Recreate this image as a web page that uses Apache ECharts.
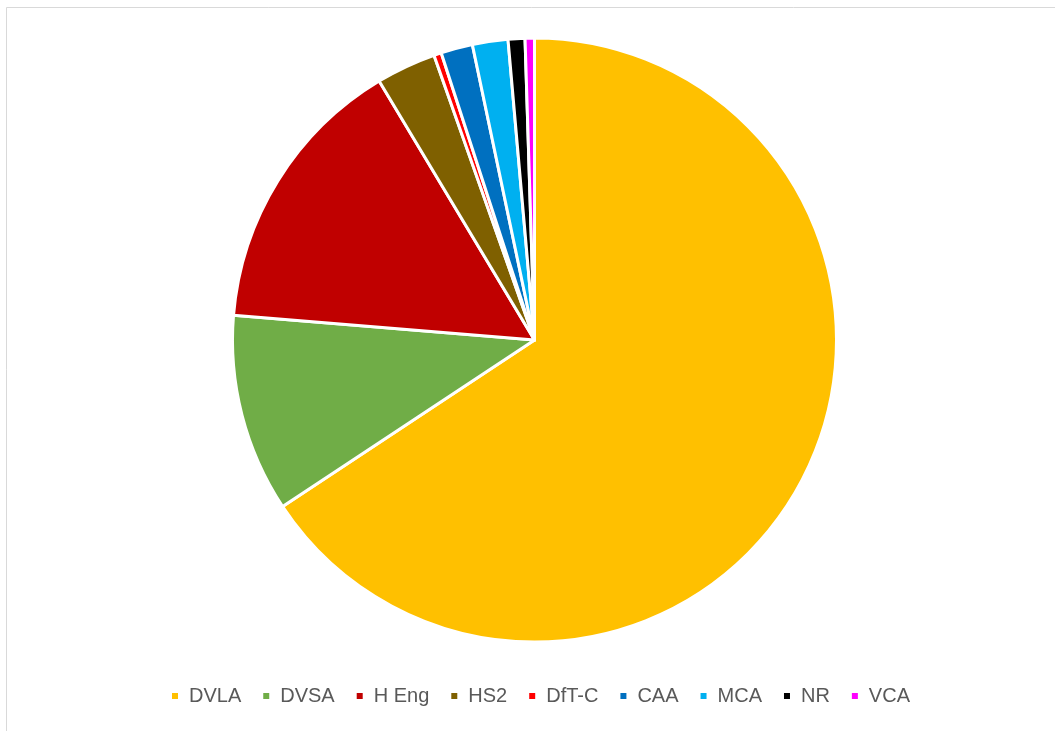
<!DOCTYPE html>
<html>
<head>
<meta charset="utf-8">
<script src="https://cdn.jsdelivr.net/npm/echarts@6/dist/echarts.min.js"></script>
<style>
  html, body { margin: 0; padding: 0; background: #ffffff; }
  #chart { width: 1055px; height: 731px; }
</style>
</head>
<body>
<div id="chart"></div>
<script>
// Share of records by organisation (percent)
const categories = ['DVLA', 'DVSA', 'H Eng', 'HS2', 'DfT-C', 'CAA', 'MCA', 'NR', 'VCA'];
const shares = [65.7, 10.6, 15.1, 3.2, 0.4, 1.7, 1.9, 0.9, 0.5];
const colors = ['#FFC000', '#70AD47', '#C00000', '#7F6000', '#FF0000', '#0070C0', '#00B0F0', '#000000', '#FF00FF'];

const chart = echarts.init(document.getElementById('chart'), null, { renderer: 'canvas' });

chart.setOption({
  animation: false,
  backgroundColor: '#ffffff',
  color: colors,
  graphic: [{
    type: 'rect',
    shape: { x: 6.5, y: 7.5, width: 1070, height: 750 },
    style: { fill: 'none', stroke: '#d9d9d9', lineWidth: 1 },
    silent: true,
    z: -1
  }],
  legend: {
    top: 686,
    left: 170,
    padding: 0,
    icon: 'rect',
    itemWidth: 8,
    itemHeight: 8,
    itemGap: 20,
    textStyle: {
      fontFamily: 'Liberation Sans',
      fontSize: 20,
      color: '#595959',
      padding: [0, 0, 0, 5]
    },
    data: categories
  },
  series: [{
    type: 'pie',
    center: [534.5, 340],
    radius: [0, 302],
    startAngle: 90,
    clockwise: true,
    label: { show: false },
    labelLine: { show: false },
    itemStyle: { borderColor: '#ffffff', borderWidth: 3 },
    emphasis: { disabled: true },
    data: categories.map((name, i) => ({ name: name, value: shares[i] }))
  }]
});
</script>
</body>
</html>
